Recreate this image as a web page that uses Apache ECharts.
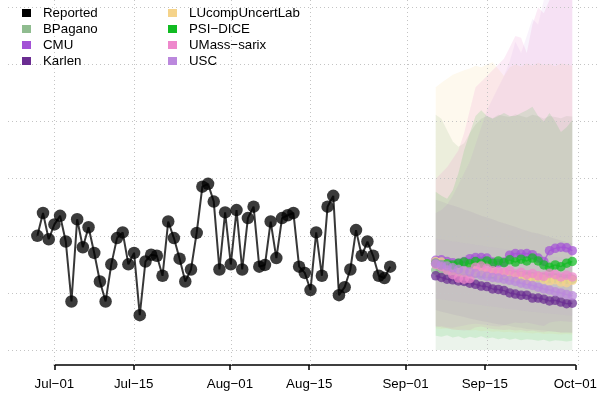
<!DOCTYPE html>
<html><head><meta charset="utf-8">
<script src="https://cdn.jsdelivr.net/npm/echarts@6/dist/echarts.min.js"></script>
<style>html,body{margin:0;padding:0;background:#fff}#c{width:600px;height:398px}</style>
</head><body><div id="c"></div>
<script>
// ---- axis ticks (days since Jul-01) ----
const xTickDays = [0, 14, 31, 45, 62, 76, 92];
const xTickLabels = ['Jul\u221201', 'Jul\u221215', 'Aug\u221201', 'Aug\u221215', 'Sep\u221201', 'Sep\u221215', 'Oct\u221201'];
const yGridValues = [0, 10, 20, 30, 40, 50, 60];

// ---- reported (daily, first day = Jun-28 = day -3) ----
const reportedFirstDay = -3;
const reported = [20.0,24.0,19.4,22.0,23.5,19.0,8.5,22.9,18.0,21.5,17.0,12.0,8.5,15.0,19.6,20.6,15.0,17.0,6.1,15.5,
  16.7,16.5,13.0,22.5,19.6,16.0,12.0,14.1,20.5,28.6,29.1,26.0,14.1,24.1,15.0,24.5,14.1,23.1,25.1,14.6,
  14.9,22.5,16.1,23.1,23.6,24.0,14.6,13.5,10.5,20.6,13.0,25.1,27.0,9.6,11.0,14.1,21.0,16.5,19.0,16.5,
  13.0,12.6,14.6];

// ---- forecasts (daily, first day = Sep-06 = day 67) ----
const forecastFirstDay = 67;
const models = ['BPagano', 'CMU', 'Karlen', 'LUcompUncertLab', 'PSI\u2212DICE', 'UMass\u2212sarix', 'USC'];
const modelColors = ['#8FBC8F', '#A352D6', '#6A2C91', '#F5D38A', '#11BB22', '#EE88CC', '#BB88DD'];

const bpaganoMed = [14.0,13.9,13.9,13.8,13.7,13.6,13.6,13.5,13.4,13.4,13.3,13.2,13.2,13.1,13.0,13.0,12.9,12.8,12.8,12.7,12.6,12.6,12.5,12.4,12.4];
const cmuMed     = [15.7,15.8,15.5,15.3,15.2,15.5,16.0,16.2,16.2,16.1,15.4,15.2,15.4,16.6,16.9,16.8,16.9,16.7,16.1,15.5,17.4,17.8,18.0,17.9,17.4];
const karlenMed  = [13.0,12.7,12.4,12.3,12.1,12.0,11.7,11.5,11.2,11.1,10.7,10.6,10.4,10.0,9.8,9.6,9.6,9.1,9.1,8.9,8.6,8.7,8.4,8.1,8.2];
const lucompMed  = [15.5,15.4,15.0,14.5,14.2,13.9,14.0,13.7,13.8,13.5,13.6,13.2,13.3,13.0,12.8,12.9,12.4,12.6,12.8,12.4,12.1,12.3,11.9,11.8,12.2];
const psiMed     = [15.2,14.9,15.1,14.9,15.2,15.4,15.1,15.5,15.2,15.6,15.2,15.6,15.3,15.8,15.4,15.9,15.6,16.1,15.6,14.9,14.5,14.9,14.6,15.2,15.5];
const umassMed   = [15.0,14.6,14.0,13.2,12.6,12.4,12.5,14.5,14.7,14.3,13.9,13.8,13.6,13.9,13.3,13.6,13.2,13.4,13.0,12.9,13.4,13.2,12.8,13.1,12.8];
const uscMed     = [15.2,14.9,14.7,14.4,14.1,13.9,13.7,13.4,13.1,12.9,12.7,12.6,12.4,12.2,12.0,11.7,11.5,11.3,11.0,10.7,10.5,10.2,10.0,9.7,9.5];

const bpaganoLo = [0,0,0,0,0,0,0,0,0,0,0,0,0,0,0,0,0,0,0,0,0,0,0,0,0];
const bpaganoHi = [41.2,40.5,38.5,36.5,35.6,36.2,38.0,39.5,40.5,41.0,40.6,41.2,41.0,40.8,41.3,41.0,40.7,41.2,41.0,40.5,41.0,40.8,40.6,41.0,40.9];
const cmuLo = [4.0,4.2,4.0,3.9,4.1,4.3,4.5,4.6,4.5,4.4,4.2,4.1,4.3,4.6,4.8,4.7,4.8,4.6,4.4,4.2,4.8,5.0,5.1,5.0,4.9];
const cmuHi = [24.0,24.5,25.5,27.0,29.0,31.0,33.0,36.0,39.0,42.0,44.0,46.0,48.0,50.5,54.0,52.0,55.0,58.0,57.0,62.0,66.0,65.0,70.0,73.0,76.0];
const karlenLo = [7.0,6.7,6.5,6.2,6.0,5.8,5.5,5.3,5.1,4.9,4.7,4.5,4.4,4.2,4.0,3.9,3.7,3.6,3.5,3.4,3.3,3.2,3.1,3.0,3.0];
const karlenHi = [26.3,26.0,25.6,25.3,25.0,24.6,24.3,23.9,23.5,23.2,22.9,22.5,22.2,21.9,21.6,21.2,20.9,20.6,20.4,20.1,19.8,19.5,19.2,18.9,18.7];
const lucompLo = [3.8,3.7,3.8,3.6,3.5,3.6,3.4,3.5,3.3,3.4,3.2,3.3,3.1,3.2,3.0,3.1,3.0,2.9,3.0,2.8,2.9,2.8,2.7,2.8,2.7];
const lucompHi = [46.0,46.8,47.5,48.2,48.6,49.0,49.3,49.8,49.5,50.0,50.4,49.2,48.0,49.5,50.0,49.6,50.2,49.8,50.3,49.9,50.1,49.7,50.2,50.0,49.8];
const psiLo = [2.5,2.3,2.6,2.2,2.4,2.0,2.3,2.1,2.4,2.0,2.2,1.9,2.1,1.8,2.0,1.7,1.9,1.8,1.6,1.8,1.5,1.7,1.6,1.5,1.6];
const psiHi = [27.7,27.0,26.5,28.0,31.0,35.0,38.0,41.0,42.0,41.0,40.5,41.0,41.5,41.0,41.0,41.5,42.0,42.6,41.0,40.0,41.5,40.0,38.2,39.0,40.3];
const umassLo = [4.2,4.0,3.8,3.6,3.5,3.4,3.5,4.0,4.1,3.9,3.7,3.6,3.5,3.6,3.4,3.5,3.3,3.4,3.2,3.1,3.3,3.2,3.0,3.1,3.0];
const umassHi = [30.0,31.0,32.0,33.5,35.0,38.0,42.0,46.0,47.0,48.0,49.0,50.0,51.0,53.0,55.0,54.7,52.0,57.0,60.0,59.0,64.0,68.0,70.0,72.0,74.0];
const uscLo = [9.0,8.9,8.7,8.6,8.4,8.3,8.1,8.0,7.9,7.7,7.6,7.5,7.3,7.2,7.1,6.9,6.8,6.7,6.6,6.5,6.4,6.3,6.2,6.1,6.0];
const uscHi = [19.5,19.4,19.2,19.0,18.9,18.7,18.6,18.4,18.3,18.1,18.0,17.8,17.7,17.5,17.4,17.2,17.1,16.9,16.8,16.6,16.5,16.3,16.2,16.1,16.0];

// ---- layout constants ----
const X_MIN = -8.153, X_MAX = 95.87;
const Y_MIN = -2.627, Y_MAX = 61.3;
const FONT = 'Liberation Sans, Arial, Helvetica, sans-serif';

function rgba(hex, a) {
  const n = parseInt(hex.slice(1), 16);
  return 'rgba(' + ((n >> 16) & 255) + ',' + ((n >> 8) & 255) + ',' + (n & 255) + ',' + a + ')';
}
function toPoints(first, arr) { return arr.map((v, i) => [first + i, v]); }

const medians = [bpaganoMed, cmuMed, karlenMed, lucompMed, psiMed, umassMed, uscMed];
const bands = [
  { lo: bpaganoLo, hi: bpaganoHi, color: modelColors[0], a: 0.18 },
  { lo: lucompLo, hi: lucompHi, color: modelColors[3], a: 0.14 },
  { lo: umassLo, hi: umassHi, color: modelColors[5], a: 0.16 },
  { lo: psiLo, hi: psiHi, color: modelColors[4], a: 0.12 },
  { lo: cmuLo, hi: cmuHi, color: modelColors[1], a: 0.07 },
  { lo: karlenLo, hi: karlenHi, color: modelColors[2], a: 0.06 },
  { lo: uscLo, hi: uscHi, color: modelColors[6], a: 0.07 }
];

const series = [];
series.push({
  type: 'custom', xAxisIndex: 0, yAxisIndex: 0, z: 1, silent: true, clip: true, animation: false,
  data: bands.map((b, i) => [i, 0]),
  renderItem: function (params, api) {
    const b = bands[params.dataIndex];
    const pts = [];
    for (let i = 0; i < b.hi.length; i++) pts.push(api.coord([forecastFirstDay + i, Math.min(b.hi[i], Y_MAX)]));
    for (let i = b.lo.length - 1; i >= 0; i--) pts.push(api.coord([forecastFirstDay + i, Math.max(b.lo[i], Y_MIN)]));
    return { type: 'polygon', shape: { points: pts }, style: { fill: rgba(b.color, b.a) } };
  }
});
series.push({
  type: 'line', xAxisIndex: 0, yAxisIndex: 0, data: [], z: 2, silent: true, animation: false,
  markLine: {
    z: 2, silent: true, symbol: ['none', 'none'], label: { show: false }, animation: false,
    lineStyle: { color: '#c4c4c4', type: [1, 3], width: 1 },
    emphasis: { disabled: true },
    data: yGridValues.map(v => ({ yAxis: v })).concat(xTickDays.map(d => ({ xAxis: d })))
  }
});
models.forEach((m, k) => {
  series.push({
    name: m, type: 'line', xAxisIndex: 0, yAxisIndex: 0, z: 3, animation: false,
    data: toPoints(forecastFirstDay, medians[k]),
    symbol: 'circle', symbolSize: 9.5, showSymbol: true,
    lineStyle: { color: rgba(modelColors[k], 0.7), width: 1.5 },
    itemStyle: { color: rgba(modelColors[k], 0.72), borderWidth: 0 },
    emphasis: { disabled: true }
  });
});
series.push({
  name: 'Reported', type: 'line', xAxisIndex: 0, yAxisIndex: 0, z: 4, animation: false,
  data: toPoints(reportedFirstDay, reported),
  symbol: 'circle', symbolSize: 12.5, showSymbol: true,
  lineStyle: { color: 'rgba(20,20,20,0.85)', width: 2 },
  itemStyle: { color: 'rgba(0,0,0,0.77)', borderWidth: 0 },
  emphasis: { disabled: true }
});

const legendText = { fontFamily: FONT, fontSize: 13.3, color: '#000', lineHeight: 16, padding: [0, 0, 0, 7] };
function legendItem(name, color) { return { name: name, itemStyle: { color: color, opacity: 1, borderWidth: 0 } }; }

const option = {
  backgroundColor: '#fff',
  animation: false,
  grid: [
    { left: 8, right: 0, top: 0, bottom: 33 },
    { left: 54.4, width: 523.6, top: 364, height: 1 }
  ],
  xAxis: [
    { gridIndex: 0, type: 'value', min: X_MIN, max: X_MAX, show: false },
    { gridIndex: 1, type: 'value', min: 0, max: 92,
      axisLine: { show: true, lineStyle: { color: '#000', width: 1.5 } },
      axisTick: { show: true, customValues: xTickDays, length: 5, lineStyle: { color: '#000', width: 1.5 } },
      axisLabel: { show: true, customValues: xTickDays, margin: 13, fontFamily: FONT, fontSize: 13.3, color: '#000',
        formatter: function (v) { const i = xTickDays.indexOf(Math.round(v)); return i >= 0 ? xTickLabels[i] : ''; } },
      splitLine: { show: false } }
  ],
  yAxis: [
    { gridIndex: 0, type: 'value', min: Y_MIN, max: Y_MAX, show: false },
    { gridIndex: 1, type: 'value', min: 0, max: 1, show: false }
  ],
  legend: [
    { left: 22, top: 5, orient: 'vertical', padding: 0, itemGap: 0, itemWidth: 9, itemHeight: 8, icon: 'rect',
      textStyle: legendText, selectedMode: false,
      data: [legendItem('Reported', '#000000'), legendItem(models[0], modelColors[0]), legendItem(models[1], modelColors[1]), legendItem(models[2], modelColors[2])] },
    { left: 168, top: 5, orient: 'vertical', padding: 0, itemGap: 0, itemWidth: 9, itemHeight: 8, icon: 'rect',
      textStyle: legendText, selectedMode: false,
      data: [legendItem(models[3], modelColors[3]), legendItem(models[4], modelColors[4]), legendItem(models[5], modelColors[5]), legendItem(models[6], modelColors[6])] }
  ],
  series: series
};
const chart = echarts.init(document.getElementById('c'), null, { renderer: 'canvas' });
chart.setOption(option);
</script></body></html>
